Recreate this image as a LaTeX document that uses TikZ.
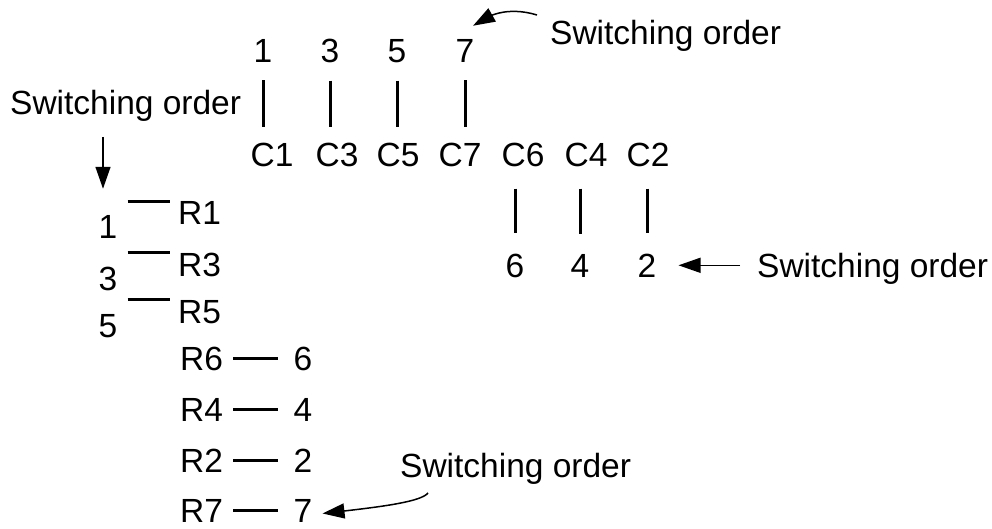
\documentclass[tikz,border=0pt]{standalone}
\usepackage{fontspec}
\setmainfont{Liberation Sans}
\usetikzlibrary{arrows.meta,bending,positioning}

\begin{document}
\begin{tikzpicture}[x=1pt,y=-1pt]
\tikzset{
  lbl/.style={inner sep=0pt,anchor=base,font=\fontsize{33.5}{40}\selectfont},
  bar/.style={line width=3pt},
  arr/.style={line width=1.5pt,-{Triangle[length=22pt,width=15pt]}}
}
\useasboundingbox (0,0) rectangle (992,529);
% columns
\foreach \n/\x in {1/263,3/330,5/397,7/465}
  \node[lbl] (t\n) at (\x,63) {\n};
\foreach \n/\x in {1/272,3/337,5/398,7/460,6/523,4/586,2/648}
  \node[lbl] (C\n) at (\x,167) {C\n};
\foreach \n/\x in {6/515,4/580,2/647}
  \node[lbl] (b\n) at (\x,277) {\n};
\foreach \n in {1,3,5,7}
  \draw[bar,shorten <=17pt,shorten >=16pt] (t\n.south) -- (t\n.south |- C\n.north);
\foreach \n in {6,4,2}
  \draw[bar,shorten <=21pt,shorten >=20pt] (b\n.north |- C\n.south) -- (b\n.north);
% rows
\foreach \n/\y in {1/225,3/276,5/323} {
  \node[lbl,anchor=base west] (R\n) at (178,\y) {R\n};
  \node[lbl] (l\n) at (108,\y+14) {\n};
  \draw[bar,shorten <=10pt,shorten >=8pt] (l\n.east |- R\n.north west) -- (R\n.north west);
}
\foreach \n/\y in {6/370,4/421,2/472,7/522} {
  \node[lbl,anchor=base west] (R\n) at (180,\y) {R\n};
  \node[lbl] (r\n) at (303,\y) {\n};
  \draw[bar,shorten <=10pt,shorten >=15pt] (R\n.east) -- (r\n.west);
}
% switching order labels
\node[lbl,anchor=base west] (sTop) at (550,45) {Switching order};
\node[lbl,anchor=base west] (sLeft) at (10,115) {Switching order};
\node[lbl,anchor=base west] (sRight) at (757,277) {Switching order};
\node[lbl,anchor=base west] (sBot) at (400,477) {Switching order};
\coordinate (dn) at ([xshift=-5pt]l1.north);
\draw[arr] ([xshift=-13pt,yshift=30pt]sTop.base west) .. controls (517,9) and (495,9) .. ([xshift=8pt,yshift=14pt]t7.north);
\draw[arr,shorten <=22pt,shorten >=27pt] (sLeft.base -| dn) -- (dn);
\draw[arr,shorten <=17pt,shorten >=22pt] (sRight.west |- b2.east) -- (b2.east);
\draw[arr] ([xshift=28pt,yshift=-16pt]sBot.base west) .. controls (420,503) and (370,508) .. ([xshift=10pt,yshift=-3pt]r7.east);
\end{tikzpicture}
\end{document}
